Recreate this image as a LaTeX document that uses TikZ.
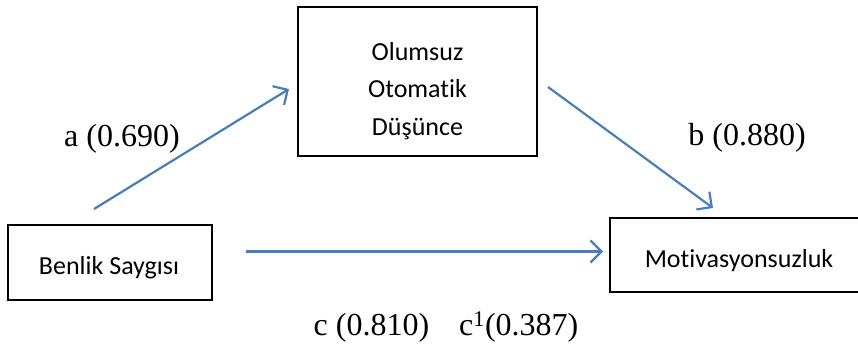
\documentclass[tikz,border=0pt]{standalone}
\usepackage{fontspec}
\setmainfont{Liberation Serif}
\newfontfamily\boxfont[Ligatures=NoCommon]{Carlito}
\usetikzlibrary{arrows.meta}
\definecolor{arrowblue}{HTML}{4A7EBB}
\tikzset{
  box/.style={draw=black, line width=2pt, inner sep=0pt},
  boxtext/.style={inner sep=0pt, font=\boxfont\fontsize{26}{37.5}\selectfont, align=center},
  lbl/.style={font=\fontsize{32}{36}\selectfont, inner sep=0pt},
  conn/.style={draw=arrowblue, line width=2.2pt, -{Straight Barb[length=11pt,width=22pt,line width=2.2pt]}}
}
\begin{document}
\begin{tikzpicture}[x=1pt,y=-1pt]
\useasboundingbox (0,0) rectangle (858,350);
\clip (0,0) rectangle (858,350);
\node[box, minimum width=239pt, minimum height=149pt] (odt) at (417.5,81.5) {};
\node[box, minimum width=204pt, minimum height=75pt] (bs) at (110,262.5) {};
\node[box, minimum width=258pt, minimum height=74pt] (mot) at (739,255) {};
\node[boxtext] (odtt) at (417.5,91) {Olumsuz\\Otomatik\\Düşünce};
\node[boxtext] (bst) at (109,268) {Benlik Saygısı};
\node[boxtext] (mott) at (739,261) {Motivasyonsuzluk};
\coordinate (a1) at (94,209);
\coordinate (a2) at (289,89);
\coordinate (b1) at (548,87);
\coordinate (b2) at (713,208);
\coordinate (c1) at (246,251.5);
\coordinate (c2) at (603,251.5);
\draw[conn] (a1) -- (a2);
\draw[conn] (b1) -- (b2);
\draw[conn] (c1) -- (c2);
\node[lbl] (la) at (122,139) {a (0.690)};
\node[lbl] (lb) at (747,138) {b (0.880)};
\node[lbl] (lc) at (446,327) {c (0.810)\hspace{30pt}c\textsuperscript{1}(0.387)};
\end{tikzpicture}
\end{document}
